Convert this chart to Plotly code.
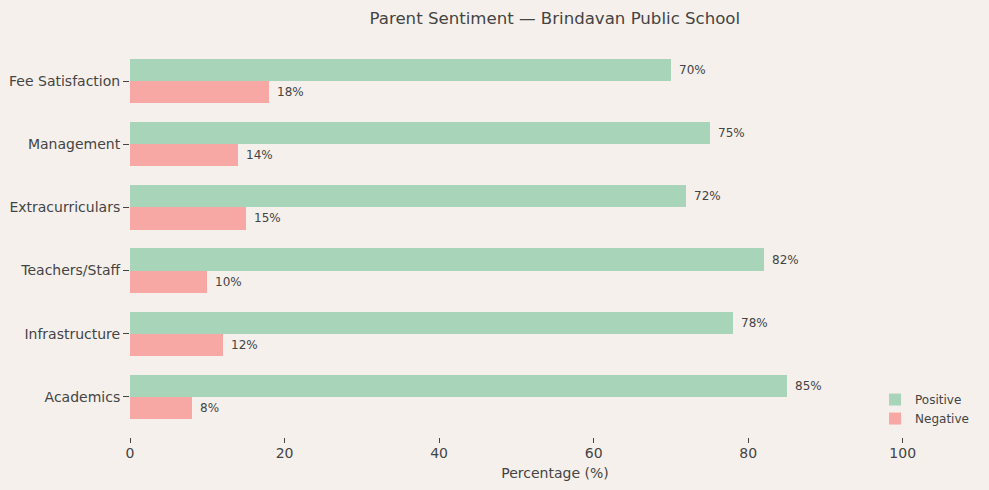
import plotly.graph_objects as go

categories = ["Academics", "Infrastructure", "Teachers/Staff", "Extracurriculars", "Management", "Fee Satisfaction"]
positive = [85, 78, 82, 72, 75, 70]
negative = [8, 12, 10, 15, 14, 18]

bar_h = 0.35
pos = list(range(len(categories)))
green = "#a8d5ba"
red = "#f7a8a4"
ink = "#444444"
bg = "#f5f0ec"

fig = go.Figure()
fig.add_trace(go.Bar(
    y=[p + bar_h / 2 for p in pos], x=positive, orientation="h", width=bar_h,
    name="Positive", marker=dict(color=green, line=dict(width=0)),
    hovertemplate="%{x}%<extra>Positive</extra>",
))
fig.add_trace(go.Bar(
    y=[p - bar_h / 2 for p in pos], x=negative, orientation="h", width=bar_h,
    name="Negative", marker=dict(color=red, line=dict(width=0)),
    hovertemplate="%{x}%<extra>Negative</extra>",
))

# value labels to the right of each bar
for p, v in zip(pos, positive):
    fig.add_annotation(x=v, y=p + bar_h / 2, text=f"{v}%", showarrow=False,
                       xanchor="left", xshift=6, font=dict(size=12, color=ink))
for p, v in zip(pos, negative):
    fig.add_annotation(x=v, y=p - bar_h / 2, text=f"{v}%", showarrow=False,
                       xanchor="left", xshift=6, font=dict(size=12, color=ink))

fig.update_layout(
    width=989, height=490,
    paper_bgcolor=bg, plot_bgcolor=bg,
    font=dict(family="DejaVu Sans", color=ink, size=14),
    margin=dict(l=130, r=9, t=41, b=53),
    title=dict(text="Parent Sentiment — Brindavan Public School", x=0.561, xanchor="center",
               y=0.963, yanchor="middle", font=dict(size=16.6, color=ink)),
    bargap=0,
    showlegend=True,
    legend=dict(x=0.993, y=0.01, xanchor="right", yanchor="bottom",
                bgcolor="rgba(0,0,0,0)", font=dict(size=12, color=ink)),
    xaxis=dict(range=[0, 110], tickvals=[0, 20, 40, 60, 80, 100], showgrid=False,
               zeroline=False, showline=False, ticks="outside", ticklen=5,
               tickcolor=ink, ticklabelstandoff=-2, automargin=False,
               title=dict(text="Percentage (%)", font=dict(size=14), standoff=8)),
    yaxis=dict(range=[-0.635, 5.635], tickvals=pos, ticktext=categories, showgrid=False,
               zeroline=False, showline=False, ticks="outside", ticklen=6, tickcolor=ink,
               ticklabelstandoff=0, automargin=False),
)

fig.write_html("out.html", config={"displayModeBar": False},
               post_script="document.body.style.margin='0';")
